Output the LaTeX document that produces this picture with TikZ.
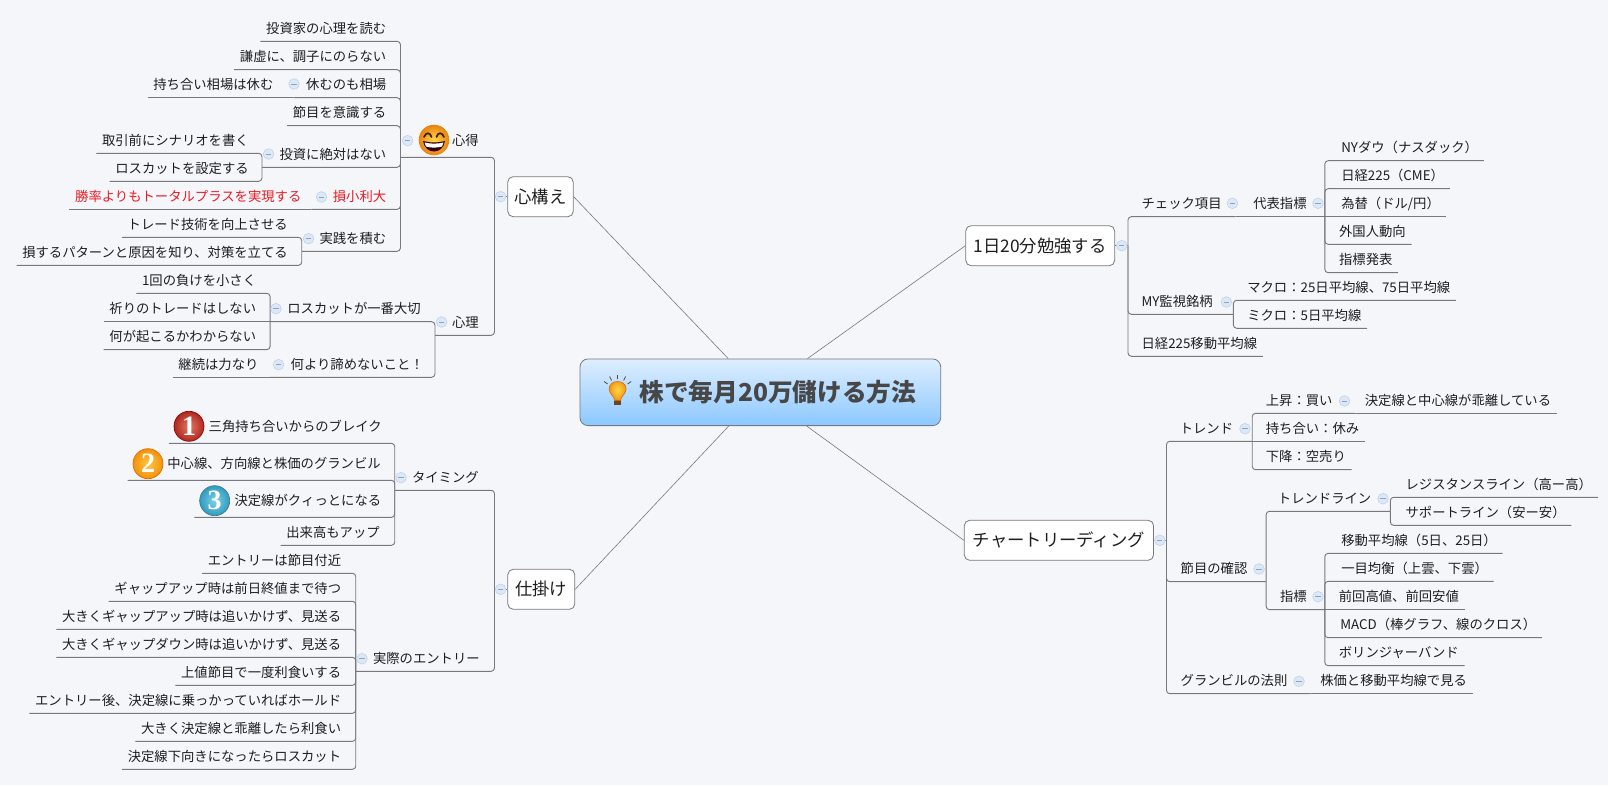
\documentclass[tikz,border=0pt]{standalone}
\usepackage{fontspec}
\setmainfont{Noto Sans CJK JP}
\newfontfamily\badgefont{Liberation Serif}
\usetikzlibrary{positioning}
\definecolor{paper}{HTML}{F4F6FA}
\definecolor{wire}{HTML}{77797E}
\definecolor{ink}{HTML}{1E1E1E}
\definecolor{alert}{HTML}{EA1B23}
\definecolor{togglefill}{HTML}{DDE8F6}
\definecolor{toggleedge}{HTML}{BCD0EA}
\definecolor{togglebar}{HTML}{8DA3C4}
\tikzset{leaf/.style = {text = ink, inner xsep = 4.125pt, inner ysep = 0, minimum height = 19.5pt, text height = 8.8pt, text depth = 1.2pt, font = \fontsize{10pt}{12pt}\selectfont}}
\tikzset{leafl/.style = {leaf, anchor = south east, align = right}}
\tikzset{leafr/.style = {leaf, anchor = south west, align = left}}
\tikzset{spanw/.style = {text width = #1*0.75pt}}
\tikzset{tall/.style = {minimum height = 25.5pt}}
\tikzset{topic/.style = {draw = wire, fill = white, rounded corners = 4pt, text = ink, line width = 0.6pt, minimum height = 30pt, inner sep = 0, font = \fontsize{13pt}{15pt}\selectfont}}
\tikzset{link/.style = {draw = wire, line width = 0.7pt, rounded corners = 2.5pt}}
\tikzset{spoke/.style = {draw = wire, line width = 0.45pt}}
\tikzset{toggle/.style = {circle, draw = toggleedge, fill = togglefill, line width = 0.4pt, inner sep = 0, minimum size = 8pt, path picture = {\draw [togglebar, line width = 0.6pt] ([xshift = 2pt]path picture bounding box.west) -- ([xshift = -2pt]path picture bounding box.east);}}}
\tikzset{badge/.style = {circle, draw = #1, line width = 0.5pt, inner sep = 0, minimum size = 22.5pt, text = white, font = \badgefont\bfseries\fontsize{21pt}{21pt}\selectfont}}

\begin{document}
\begin{tikzpicture}[x = 0.75pt, y = -0.75pt]
  \fill [paper] (0, 0) rectangle (1608, 785);

  \node [topic, shade, top color = {rgb,255:red,222;green,238;blue,255}, bottom color = {rgb,255:red,140;green,200;blue,255}, rounded corners = 6pt, minimum width = 270.5pt, minimum height = 50pt, text = black!72, font = \bfseries\fontsize{18.5pt}{20pt}\selectfont] (root) at (760.35, 392.3) {\hspace*{26.25pt}株で毎月20万儲ける方法};

  \node [topic, minimum width = 49.1pt] (kamae) at (540.5, 196.7) {心構え};
  \node [topic, minimum width = 50.2pt] (shikake) at (541.3, 589.3) {仕掛け};
  \node [topic, minimum width = 111.7pt] (benkyo) at (1040.2, 245.7) {1日20分勉強する};
  \node [topic, minimum width = 141.9pt] (chart) at (1058.9, 540.3) {チャートリーディング};

  \coordinate (kamaeS) at (494.5, 196.7);
  \coordinate (shikakeS) at (494.5, 589.3);
  \coordinate (benkyoS) at (1128, 245.7);
  \coordinate (chartS) at (1166.5, 540.3);

  \node [leafl, tall, spanw = 72.5] (shintoku) at (484.5, 157.3) {心得};
  \node [leafl] (toushi) at (392, 41.3) {投資家の心理を読む};
  \node [leafl] (kenkyo) at (392, 69.7) {謙虚に、調子にのらない};
  \node [leafl, spanw = 87] (yasumu) at (392, 97.7) {休むのも相場};
  \node [leafl] (mochiai) at (279.1, 97.7) {持ち合い相場は休む};
  \node [leafl] (setsume) at (392, 125.7) {節目を意識する};
  \node [leafl, spanw = 118.5] (zettai) at (392, 167.3) {投資に絶対はない};
  \node [leafl] (scenario) at (254.5, 153.3) {取引前にシナリオを書く};
  \node [leafl] (lossset) at (254.5, 181.3) {ロスカットを設定する};
  \node [leafl, spanw = 69, text = alert] (sonsho) at (392, 209.3) {損小利大};
  \node [leafl, text = alert] (shoritsu) at (307.1, 209.3) {勝率よりもトータルプラスを実現する};
  \node [leafl, spanw = 78.7] (jissen) at (392, 251.3) {実践を積む};
  \node [leafl] (gijutsu) at (293.5, 237.3) {トレード技術を向上させる};
  \node [leafl] (pattern) at (293.5, 265.3) {損するパターンと原因を知り、対策を立てる};

  \node [leafl, spanw = 38] (shinri) at (484.5, 335.3) {心理};
  \node [leafl, spanw = 144.9] (losscut) at (426.5, 321.7) {ロスカットが一番大切};
  \node [leafl] (ikkai) at (261.9, 293.3) {1回の負けを小さく};
  \node [leafl] (inori) at (261.9, 321.7) {祈りのトレードはしない};
  \node [leafl] (nani) at (261.9, 349.7) {何が起こるかわからない};
  \node [leafl, spanw = 148] (akirame) at (429.5, 377.3) {何より諦めないこと！};
  \node [leafl] (keizoku) at (264.2, 377.3) {継続は力なり};

  \node [leafl, spanw = 78.2] (timing) at (484.5, 490.3) {タイミング};
  \node [leafl, tall, spanw = 207] (sankaku) at (387.5, 443.3) {三角持ち合いからのブレイク};
  \node [leafl, tall, spanw = 247.3] (chushin) at (386.5, 480.3) {中心線、方向線と株価のグランビル};
  \node [leafl, tall, spanw = 181] (kettei) at (387, 517.3) {決定線がクィっとになる};
  \node [leafl] (dekidaka) at (385.5, 545.3) {出来高もアップ};

  \node [leafl, spanw = 118.2] (entry) at (485.5, 671.3) {実際のエントリー};
  \node [leafl] (fushime) at (346.9, 573.3) {エントリーは節目付近};
  \node [leafl] (gapup) at (346.9, 601.3) {ギャップアップ時は前日終値まで待つ};
  \node [leafl] (ookiup) at (346.9, 629.3) {大きくギャップアップ時は追いかけず、見送る};
  \node [leafl] (ookidown) at (346.9, 657.3) {大きくギャップダウン時は追いかけず、見送る};
  \node [leafl] (uwane) at (346.9, 685.3) {上値節目で一度利食いする};
  \node [leafl] (hold) at (346.9, 713.3) {エントリー後、決定線に乗っかっていればホールド};
  \node [leafl] (kairi) at (346.9, 741.3) {大きく決定線と乖離したら利食い};
  \node [leafl] (shita) at (346.9, 769.3) {決定線下向きになったらロスカット};

  \node [leafr, spanw = 88.2] (check) at (1135.8, 216.7) {チェック項目};
  \node [leafr, spanw = 65.8] (daihyo) at (1247.5, 216.7) {代表指標};
  \node [leafr] (ny) at (1335.5, 160.7) {NYダウ（ナスダック）};
  \node [leafr] (nikkei) at (1335.5, 188.7) {日経225（CME）};
  \node [leafr] (kawase) at (1335.5, 216.7) {為替（ドル/円）};
  \node [leafr] (gaikoku) at (1333.3, 244.3) {外国人動向};
  \node [leafr] (hatsu) at (1333.3, 272.7) {指標発表};
  \node [leafr, spanw = 86] (mywatch) at (1135.8, 314.3) {MY監視銘柄};
  \node [leafr] (macro) at (1241.5, 300.3) {マクロ：25日平均線、75日平均線};
  \node [leafr] (micro) at (1241.5, 328.3) {ミクロ：5日平均線};
  \node [leafr] (idou) at (1135.8, 356.3) {日経225移動平均線};

  \node [leafr, spanw = 66.7] (trend) at (1174, 441.3) {トレンド};
  \node [leafr, spanw = 83.9] (joshou) at (1260.1, 413.3) {上昇：買い};
  \node [leafr] (kessen) at (1359.1, 413.3) {決定線と中心線が乖離している};
  \node [leafr] (mochi) at (1260.1, 441.3) {持ち合い：休み};
  \node [leafr] (kakou) at (1260.1, 469.7) {下降：空売り};
  \node [leafr, spanw = 79.7] (kakunin) at (1174.9, 581.7) {節目の確認};
  \node [leafr, spanw = 106.6] (tline) at (1272.2, 511.3) {トレンドライン};
  \node [leafr] (regist) at (1399.8, 497.3) {レジスタンスライン（高ー高）};
  \node [leafr] (support) at (1399.8, 525.3) {サポートライン（安ー安）};
  \node [leafr, spanw = 39] (shihyo) at (1274.3, 609.7) {指標};
  \node [leafr] (heikin) at (1335.5, 553.3) {移動平均線（5日、25日）};
  \node [leafr] (ichimoku) at (1335.5, 581.3) {一目均衡（上雲、下雲）};
  \node [leafr] (zenkai) at (1333.1, 609.7) {前回高値、前回安値};
  \node [leafr] (macd) at (1334.5, 637.7) {MACD（棒グラフ、線のクロス）};
  \node [leafr] (boll) at (1333.1, 665.7) {ボリンジャーバンド};
  \node [leafr, spanw = 124.1] (gran) at (1174.9, 693.7) {グランビルの法則};
  \node [leafr] (kabuka) at (1314.5, 693.7) {株価と移動平均線で見る};

  \draw [spoke] (kamae.east) -- (root);
  \draw [spoke] (shikake.east) -- (root);
  \draw [spoke] (benkyo.west) -- (root);
  \draw [spoke] (chart.west) -- (root);

  \draw [link] (kamaeS) -- (kamae.west);
  \draw [link] (shikakeS) -- (shikake.west);
  \draw [link] (benkyo.east) -- (benkyoS);
  \draw [link] (chart.east) -- (chartS);

  \draw [link] (shintoku.south west) -| (kamaeS);
  \draw [link] (shinri.south west) -| (kamaeS);
  \draw [link] (timing.south west) -| (shikakeS);
  \draw [link] (entry.south west) -| (shikakeS);

  \draw [link] (toushi.south west) -| (shintoku.south west);
  \draw [link] (kenkyo.south west) -| (shintoku.south west);
  \draw [link] (yasumu.south west) -| (shintoku.south west);
  \draw [link] (setsume.south west) -| (shintoku.south west);
  \draw [link] (zettai.south west) -| (shintoku.south west);
  \draw [link] (sonsho.south west) -| (shintoku.south west);
  \draw [link] (jissen.south west) -| (shintoku.south west);
  \draw [link] (mochiai.south west) -- (yasumu.south west);
  \draw [link] (scenario.south west) -| (zettai.south west);
  \draw [link] (lossset.south west) -| (zettai.south west);
  \draw [link] (shoritsu.south west) -- (sonsho.south west);
  \draw [link] (gijutsu.south west) -| (jissen.south west);
  \draw [link] (pattern.south west) -| (jissen.south west);

  \draw [link] (losscut.south west) -| (shinri.south west);
  \draw [link] (akirame.south west) -| (shinri.south west);
  \draw [link] (ikkai.south west) -| (losscut.south west);
  \draw [link] (inori.south west) -- (losscut.south west);
  \draw [link] (nani.south west) -| (losscut.south west);
  \draw [link] (keizoku.south west) -- (akirame.south west);

  \draw [link] (sankaku.south west) -| (timing.south west);
  \draw [link] (chushin.south west) -| (timing.south west);
  \draw [link] (kettei.south west) -| (timing.south west);
  \draw [link] (dekidaka.south west) -| (timing.south west);

  \draw [link] (fushime.south west) -| (entry.south west);
  \draw [link] (gapup.south west) -| (entry.south west);
  \draw [link] (ookiup.south west) -| (entry.south west);
  \draw [link] (ookidown.south west) -| (entry.south west);
  \draw [link] (uwane.south west) -| (entry.south west);
  \draw [link] (hold.south west) -| (entry.south west);
  \draw [link] (kairi.south west) -| (entry.south west);
  \draw [link] (shita.south west) -| (entry.south west);

  \draw [link] (benkyoS) |- (check.south east);
  \draw [link] (benkyoS) |- (mywatch.south east);
  \draw [link] (benkyoS) |- (idou.south east);
  \draw [link] (check.south east) -- (daihyo.south east);
  \draw [link] (daihyo.south east) |- (ny.south east);
  \draw [link] (daihyo.south east) |- (nikkei.south east);
  \draw [link] (daihyo.south east) -- (kawase.south east);
  \draw [link] (daihyo.south east) |- (gaikoku.south east);
  \draw [link] (daihyo.south east) |- (hatsu.south east);
  \draw [link] (mywatch.south east) |- (macro.south east);
  \draw [link] (mywatch.south east) |- (micro.south east);

  \draw [link] (chartS) |- (trend.south east);
  \draw [link] (chartS) |- (kakunin.south east);
  \draw [link] (chartS) |- (gran.south east);
  \draw [link] (trend.south east) |- (joshou.south east);
  \draw [link] (trend.south east) -- (mochi.south east);
  \draw [link] (trend.south east) |- (kakou.south east);
  \draw [link] (joshou.south east) -- (kessen.south east);
  \draw [link] (kakunin.south east) |- (tline.south east);
  \draw [link] (kakunin.south east) |- (shihyo.south east);
  \draw [link] (tline.south east) |- (regist.south east);
  \draw [link] (tline.south east) |- (support.south east);
  \draw [link] (shihyo.south east) |- (heikin.south east);
  \draw [link] (shihyo.south east) |- (ichimoku.south east);
  \draw [link] (shihyo.south east) -- (zenkai.south east);
  \draw [link] (shihyo.south east) |- (macd.south east);
  \draw [link] (shihyo.south east) |- (boll.south east);
  \draw [link] (gran.south east) -- (kabuka.south east);

  \node [toggle] (tKamae) at (500.6, 196.7) {};
  \node [toggle] (tShikake) at (500.6, 589.3) {};
  \node [toggle] (tBenkyo) at (1121.8, 245.7) {};
  \node [toggle] (tChart) at (1159.8, 540.3) {};
  \node [toggle] (tShintoku) at (407.6, 140.7) {};
  \node [toggle] (tShinri) at (441.6, 322) {};
  \node [toggle] (tYasumu) at (294, 84) {};
  \node [toggle] (tZettai) at (268.6, 154) {};
  \node [toggle] (tSonsho) at (321.5, 197) {};
  \node [toggle] (tJissen) at (308.5, 238.7) {};
  \node [toggle] (tLosscut) at (276, 308.7) {};
  \node [toggle] (tAkirame) at (278.6, 364.7) {};
  \node [toggle] (tTiming) at (401, 477.7) {};
  \node [toggle] (tEntry) at (362, 658.7) {};
  \node [toggle] (tCheck) at (1232.4, 203.3) {};
  \node [toggle] (tDaihyo) at (1318, 203.3) {};
  \node [toggle] (tMy) at (1226.3, 302) {};
  \node [toggle] (tTrend) at (1245, 428.7) {};
  \node [toggle] (tJoshou) at (1344.5, 401) {};
  \node [toggle] (tKakunin) at (1259, 569) {};
  \node [toggle] (tTline) at (1383, 498.7) {};
  \node [toggle] (tShihyo) at (1318, 596.7) {};
  \node [toggle] (tGran) at (1299, 681.3) {};

  \node [badge = red!55!black, shade, inner color = {rgb,255:red,226;green,120;blue,100}, outer color = {rgb,255:red,176;green,40;blue,32}] (one) at (189, 426.3) {1};
  \node [badge = orange!85!black, shade, inner color = {rgb,255:red,255;green,200;blue,70}, outer color = {rgb,255:red,244;green,146;blue,10}] (two) at (148, 463.7) {2};
  \node [badge = cyan!50!black, shade, inner color = {rgb,255:red,130;green,208;blue,228}, outer color = {rgb,255:red,46;green,156;blue,192}] (three) at (214.7, 500.7) {3};

  \begin{scope}[shift = {(434, 140)}]
    \shade [inner color = {rgb,255:red,255;green,216;blue,74}, outer color = {rgb,255:red,232;green,130;blue,16}] circle [radius = 15.3];
    \draw [black!75!orange, line width = 1.3pt, line cap = round] (-10, -3) .. controls (-8, -8) and (-4, -8) .. (-2.5, -3);
    \draw [black!75!orange, line width = 1.3pt, line cap = round] (2.5, -3) .. controls (4, -8) and (8, -8) .. (10, -3);
    \fill [black!80!red] (-11, 1) .. controls (-9, 15) and (9, 15) .. (11, 1) .. controls (4, 3) and (-4, 3) .. cycle;
    \fill [white] (-9.5, 2.5) .. controls (-4, 4) and (4, 4) .. (9.5, 2.5) -- (8, 6.5) .. controls (3, 8) and (-3, 8) .. (-8, 6.5) -- cycle;
  \end{scope}

  \begin{scope}[shift = {(617.6, 391)}]
    \shade [inner color = {rgb,255:red,255;green,214;blue,70}, outer color = {rgb,255:red,240;green,150;blue,20}, draw = orange!80!black, line width = 0.4pt] (-3, 9.5) .. controls (-3, 5) and (-8.5, 3) .. (-8.5, -2) .. controls (-8.5, -12) and (8.5, -12) .. (8.5, -2) .. controls (8.5, 3) and (3, 5) .. (3, 9.5) -- cycle;
    \fill [black!45!brown] (-3.2, 9.5) rectangle (3.2, 14);
    \draw [black!55!olive, line width = 0.6pt] (0, -12) -- (0, -16);
    \draw [black!55!olive, line width = 0.6pt] (-6, -10.5) -- (-8, -14.5);
    \draw [black!55!olive, line width = 0.6pt] (6, -10.5) -- (8, -14.5);
    \draw [black!55!olive, line width = 0.6pt] (-10, -7) -- (-13.5, -9.5);
    \draw [black!55!olive, line width = 0.6pt] (10, -7) -- (13.5, -9.5);
  \end{scope}
\end{tikzpicture}
\end{document}
